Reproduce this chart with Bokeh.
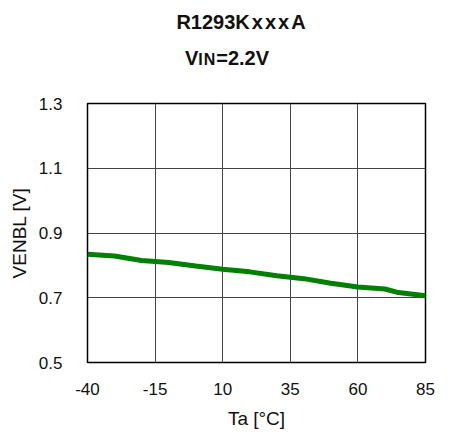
from bokeh.plotting import figure
from bokeh.models import FixedTicker, ColumnDataSource, Div, CustomJSTickFormatter
from bokeh.layouts import column
from bokeh.embed import file_html
from bokeh.resources import INLINE

temps = [-40, -30, -20, -10, 0, 10, 20, 30, 40, 50, 60, 70, 75, 85]
venbl = [0.834, 0.829, 0.815, 0.809, 0.798, 0.788, 0.780, 0.768, 0.759, 0.745, 0.733, 0.727, 0.716, 0.706]
x_ticks = [-40, -15, 10, 35, 60, 85]
y_ticks = [0.5, 0.7, 0.9, 1.1, 1.3]
title_line1 = "R1293KxxxA"
title_vin = "2.2V"

FONT = "Liberation Sans"
TOP = 70

title_html = (
    f"<div style=\"font-family:'Liberation Sans',Arial,sans-serif;font-weight:bold;color:#111;\">"
    f"<div style=\"position:absolute;left:97px;top:12px;width:290px;text-align:center;"
    f"font-size:20px;line-height:20px;white-space:nowrap;\">{title_line1[:5]}"
    f"<span style=\"letter-spacing:2px\">{title_line1[5:]}</span></div>"
    f"<div style=\"position:absolute;left:127px;top:48px;width:200px;text-align:center;"
    f"font-size:20px;line-height:20px;white-space:nowrap;\">V"
    f"<span style=\"font-size:16px;letter-spacing:1px\">IN</span>={title_vin}</div>"
    f"</div>"
)
div = Div(text=title_html, width=435, height=TOP, margin=(0, 0, 0, 0))

p = figure(width=435, height=431 - TOP, x_range=(-40, 85), y_range=(0.5, 1.3),
           output_backend="svg", toolbar_location=None,
           min_border_left=87, min_border_right=10, min_border_top=33, min_border_bottom=69)

src = ColumnDataSource(dict(x=temps, y=venbl))
p.line("x", "y", source=src, line_color="#008000", line_width=5)

p.xaxis.ticker = FixedTicker(ticks=x_ticks)
p.yaxis.ticker = FixedTicker(ticks=y_ticks)
p.xaxis.formatter = CustomJSTickFormatter(code="return tick.toString();")
p.yaxis.formatter = CustomJSTickFormatter(code="return tick.toFixed(1);")
for ax in (p.xaxis[0], p.yaxis[0]):
    ax.axis_line_color = None
    ax.major_tick_line_color = None
    ax.minor_tick_line_color = None
    ax.major_label_text_font = FONT
    ax.major_label_text_font_size = "17px"
    ax.major_label_text_color = "#111111"
    ax.axis_label_text_font = FONT
    ax.axis_label_text_font_size = "19px"
    ax.axis_label_text_font_style = "normal"
    ax.axis_label_text_color = "#111111"
p.xaxis.axis_label = "Ta [°C]"
p.yaxis.axis_label = "VENBL [V]"
p.xaxis.major_label_standoff = 14
p.yaxis.major_label_standoff = 19
p.xaxis.axis_label_standoff = 10
p.yaxis.axis_label_standoff = 6

p.xgrid.grid_line_color = "#444444"
p.ygrid.grid_line_color = "#444444"
p.xgrid.grid_line_width = 1
p.ygrid.grid_line_width = 1
p.outline_line_color = "#000000"
p.outline_line_width = 1.5

layout = column(div, p, spacing=0)
open("out.html", "w").write(file_html(layout, INLINE))
